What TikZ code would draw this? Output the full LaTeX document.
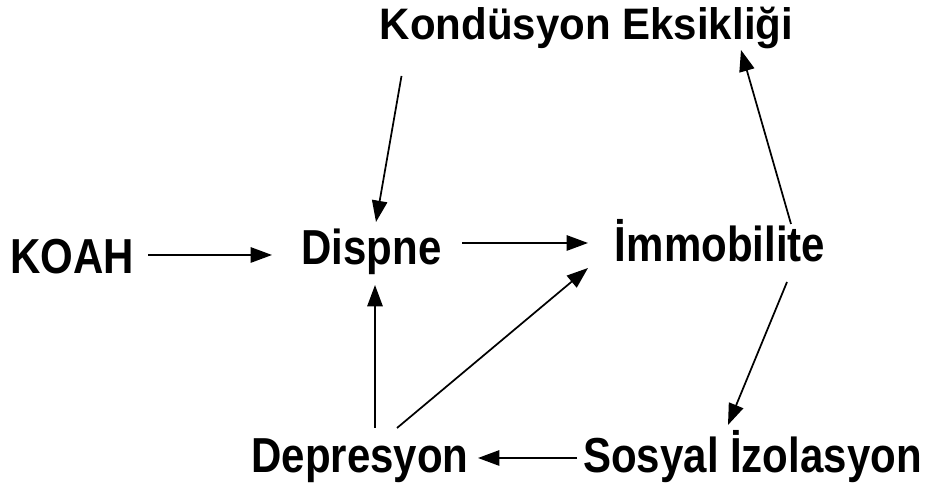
\documentclass[tikz,border=0pt]{standalone}
\usepackage{fontspec}
\setmainfont{Liberation Sans}
\usetikzlibrary{arrows.meta,calc}
\newcommand{\tallbox}[2][1.17]{\scalebox{1}[#1]{#2}}
\tikzset{
  lbl/.style={inner sep=0pt,anchor=base,font=\fontsize{31.5}{36}\selectfont\bfseries},
  arr/.style={line width=1.3pt,-{Triangle[length=16pt,width=11.5pt]}}
}
\begin{document}
\begin{tikzpicture}[x=0.75pt,y=0.75pt]
  \useasboundingbox (0,0) rectangle (928,488);
  \node[lbl] (kond) at (586.5,448) {\tallbox[1.05]{Kondüsyon Eksikliği}};
  \node[lbl] (koah) at (72,214) {\tallbox{KOAH}};
  \node[lbl] (dispne) at (371.5,223) {\tallbox{Dispne}};
  \node[lbl] (immob) at (720,226) {\tallbox{İmmobilite}};
  \node[lbl] (depr) at (360,15) {\tallbox{Depresyon}};
  \node[lbl] (sosyal) at (752.5,15) {\tallbox{Sosyal İzolasyon}};
  \draw[arr] ($(koah.base)+(76,19)$) -- ($(dispne.base)+(-99.5,10)$);
  \draw[arr] ($(dispne.base)+(90.5,22)$) -- ($(immob.base)+(-132,19)$);
  \draw[arr] ($(kond.base)+(-185,-36)$) -- ($(dispne.base)+(4.5,43)$);
  \draw[arr] ($(immob.base)+(71,38)$) -- ($(kond.base)+(154.5,-10)$);
  \draw[arr] ($(immob.base)+(67,-20)$) -- ($(sosyal.base)+(-24.5,48)$);
  \draw[arr] ($(sosyal.base)+(-175.5,15)$) -- ($(depr.base)+(118,15)$);
  \draw[arr] ($(depr.base)+(15,45)$) -- ($(dispne.base)+(3.5,-20)$);
  \draw[arr] ($(depr.base)+(37,45)$) -- ($(immob.base)+(-132,-6)$);
\end{tikzpicture}
\end{document}
